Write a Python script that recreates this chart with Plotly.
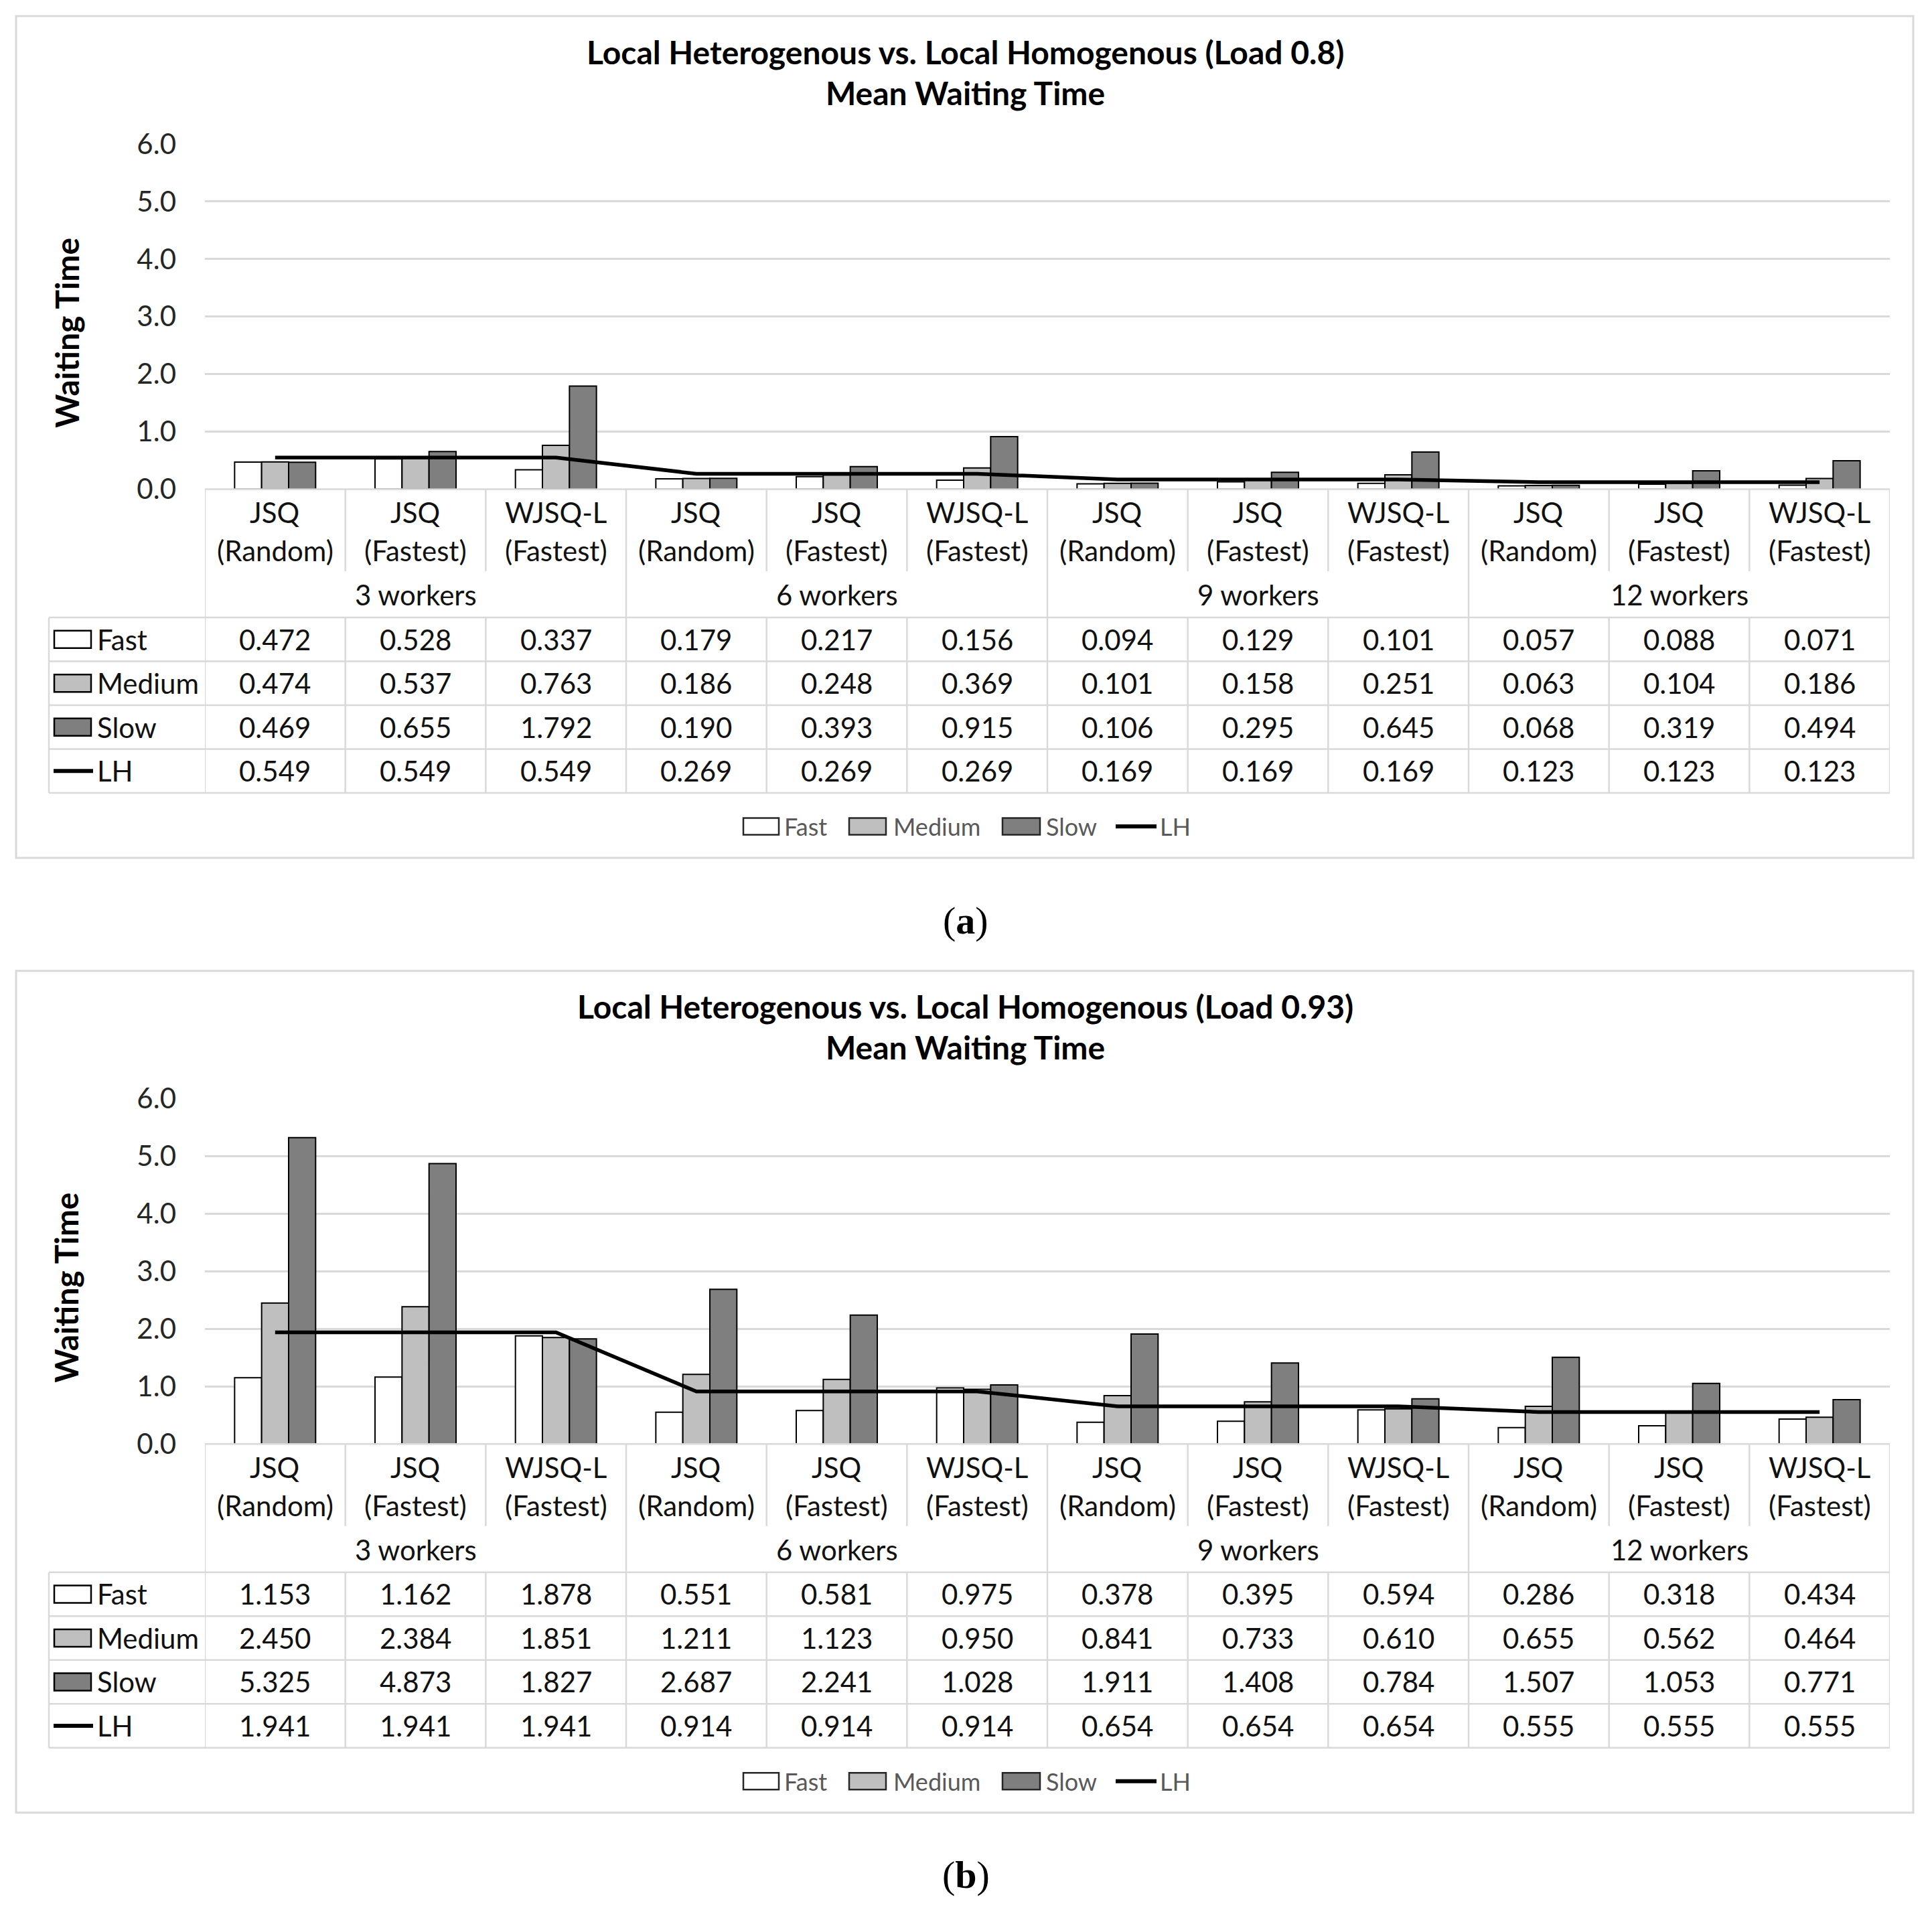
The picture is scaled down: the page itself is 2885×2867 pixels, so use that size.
import plotly.graph_objects as go

W, H = 2885, 2867

# ---------------- data ----------------
cat_line1 = ["JSQ", "JSQ", "WJSQ-L"] * 4
cat_line2 = ["(Random)", "(Fastest)", "(Fastest)"] * 4
groups = ["3 workers", "6 workers", "9 workers", "12 workers"]
series_names = ["Fast", "Medium", "Slow", "LH"]
y_ticks = [0, 1, 2, 3, 4, 5, 6]

a_fast = [0.472, 0.528, 0.337, 0.179, 0.217, 0.156, 0.094, 0.129, 0.101, 0.057, 0.088, 0.071]
a_medium = [0.474, 0.537, 0.763, 0.186, 0.248, 0.369, 0.101, 0.158, 0.251, 0.063, 0.104, 0.186]
a_slow = [0.469, 0.655, 1.792, 0.190, 0.393, 0.915, 0.106, 0.295, 0.645, 0.068, 0.319, 0.494]
a_lh = [0.549, 0.549, 0.549, 0.269, 0.269, 0.269, 0.169, 0.169, 0.169, 0.123, 0.123, 0.123]

b_fast = [1.153, 1.162, 1.878, 0.551, 0.581, 0.975, 0.378, 0.395, 0.594, 0.286, 0.318, 0.434]
b_medium = [2.450, 2.384, 1.851, 1.211, 1.123, 0.950, 0.841, 0.733, 0.610, 0.655, 0.562, 0.464]
b_slow = [5.325, 4.873, 1.827, 2.687, 2.241, 1.028, 1.911, 1.408, 0.784, 1.507, 1.053, 0.771]
b_lh = [1.941, 1.941, 1.941, 0.914, 0.914, 0.914, 0.654, 0.654, 0.654, 0.555, 0.555, 0.555]

title_a = ["Local Heterogenous vs. Local Homogenous (Load 0.8)", "Mean Waiting Time"]
title_b = ["Local Heterogenous vs. Local Homogenous (Load 0.93)", "Mean Waiting Time"]
y_title = "Waiting Time"
panel_labels = ["a", "b"]

# ---------------- styling ----------------
FONT = "Lato"
FS = 42
FILLS = {"Fast": "#FFFFFF", "Medium": "#BFBFBF", "Slow": "#7F7F7F"}
GRID = "#D9D9D9"


def X(px):
    return px / W


def Y(py):
    return 1 - py / H


def text(t, x, y, font, xref="paper", xanchor="center", **kw):
    d = dict(text=t, x=x, y=y, xref=xref, yref="paper", showarrow=False,
             xanchor=xanchor, yanchor="middle", font=font)
    d.update(kw)
    return d


fig = go.Figure()
shapes = []
annotations = []

panels = [
    dict(offset=0.0, xa="x", ya="y", xl="xaxis", yl="yaxis",
         fast=a_fast, medium=a_medium, slow=a_slow, lh=a_lh, title=title_a, label=panel_labels[0]),
    dict(offset=1425.7, xa="x2", ya="y2", xl="xaxis2", yl="yaxis2",
         fast=b_fast, medium=b_medium, slow=b_slow, lh=b_lh, title=title_b, label=panel_labels[1]),
]

ncat = len(cat_line1)
xs = list(range(ncat))

layout_axes = {}
for p in panels:
    D = p["offset"]
    for name in ["Fast", "Medium", "Slow"]:
        fig.add_trace(go.Bar(
            x=xs, y=p[name.lower()], name=name, xaxis=p["xa"], yaxis=p["ya"],
            marker=dict(color=FILLS[name], line=dict(color="black", width=2)),
            showlegend=False, hoverinfo="skip"))
    fig.add_trace(go.Scatter(
        x=xs, y=p["lh"], name="LH", mode="lines", xaxis=p["xa"], yaxis=p["ya"],
        line=dict(color="black", width=5.5), showlegend=False, hoverinfo="skip"))

    layout_axes[p["xl"]] = dict(
        domain=[X(306), X(2822)], range=[-0.5, ncat - 0.5], showticklabels=False,
        showgrid=False, zeroline=False, showline=False, ticks="", fixedrange=True,
        automargin=False, anchor=p["ya"])
    layout_axes[p["yl"]] = dict(
        domain=[Y(730.5 + D), Y(215 + D)], range=[0, 6], tickvals=y_ticks,
        tickformat=".1f", showgrid=True, gridcolor=GRID, gridwidth=3,
        zeroline=False, showline=False, ticks="", ticklabelstandoff=42,
        tickfont=dict(family=FONT, size=FS, color="#262626"), fixedrange=True,
        automargin=False, anchor=p["xa"])

    # panel border
    shapes.append(dict(type="rect", xref="paper", yref="paper",
                       x0=X(24), x1=X(2857), y0=Y(1281 + D), y1=Y(24 + D),
                       line=dict(color=GRID, width=3), fillcolor="rgba(0,0,0,0)", layer="below"))

    # titles
    tfont = dict(family=FONT, size=48, color="#000000")
    annotations.append(text("<b>%s</b>" % p["title"][0], X(1441), Y(77 + D), tfont))
    annotations.append(text("<b>%s</b>" % p["title"][1], X(1441), Y(138 + D), tfont))
    annotations.append(text("<b>%s</b>" % y_title, X(99), Y(497 + D),
                            dict(family=FONT, size=48, color="#000000"), textangle=-90))

    # ---------- data table ----------
    top, cat_bot, grp_bot = 730.5 + D, 853 + D, 922 + D
    row_edges = [922 + D, 987.5 + D, 1053 + D, 1118.5 + D, 1184 + D]
    left_px = 73
    lc = dict(color=GRID, width=2.5)
    shapes.append(dict(type="line", xref=p["xa"], yref="paper", x0=-0.5, x1=ncat - 0.5,
                       y0=Y(top), y1=Y(top), line=lc))
    for ye in row_edges:
        shapes.append(dict(type="line", xref="paper", yref="paper", x0=X(left_px), x1=X(2822),
                           y0=Y(ye), y1=Y(ye), line=lc))
    shapes.append(dict(type="line", xref="paper", yref="paper", x0=X(left_px), x1=X(left_px),
                       y0=Y(row_edges[0]), y1=Y(row_edges[-1]), line=lc))
    for k in range(ncat + 1):
        xv = k - 0.5
        if k % 3 == 0:
            shapes.append(dict(type="line", xref=p["xa"], yref="paper", x0=xv, x1=xv,
                               y0=Y(top), y1=Y(row_edges[-1]), line=lc))
        else:
            shapes.append(dict(type="line", xref=p["xa"], yref="paper", x0=xv, x1=xv,
                               y0=Y(top), y1=Y(cat_bot), line=lc))
            shapes.append(dict(type="line", xref=p["xa"], yref="paper", x0=xv, x1=xv,
                               y0=Y(grp_bot), y1=Y(row_edges[-1]), line=lc))
    tf = dict(family=FONT, size=FS, color="#111111")
    for i in range(ncat):
        annotations.append(text(cat_line1[i], i, Y(765 + D), tf, xref=p["xa"]))
        annotations.append(text(cat_line2[i], i, Y(822 + D), tf, xref=p["xa"]))
    for g, gname in enumerate(groups):
        annotations.append(text(gname, 3 * g + 1, Y(888 + D), tf, xref=p["xa"]))
    series_vals = [p["fast"], p["medium"], p["slow"], p["lh"]]
    for r, (sname, vals) in enumerate(zip(series_names, series_vals)):
        yc = (row_edges[r] + row_edges[r + 1]) / 2
        for i, v in enumerate(vals):
            annotations.append(text("%.3f" % v, i, Y(yc), tf, xref=p["xa"]))
        if sname == "LH":
            shapes.append(dict(type="line", xref="paper", yref="paper", x0=X(80), x1=X(139),
                               y0=Y(yc), y1=Y(yc), line=dict(color="black", width=6)))
        else:
            shapes.append(dict(type="rect", xref="paper", yref="paper", x0=X(81), x1=X(136),
                               y0=Y(yc + 13), y1=Y(yc - 13), fillcolor=FILLS[sname],
                               line=dict(color="black", width=2.5)))
        annotations.append(text(sname, X(143), Y(yc), tf, xanchor="left"))

    # ---------- bottom legend ----------
    ly = 1234 + D
    lf = dict(family=FONT, size=36, color="#595959")
    keys = [("Fast", 1110, 1163, 1169), ("Medium", 1268, 1323, 1332),
            ("Slow", 1497, 1553, 1560), ("LH", 1666, 1727, 1730)]
    for sname, k0, k1, t0 in keys:
        if sname == "LH":
            shapes.append(dict(type="line", xref="paper", yref="paper", x0=X(k0), x1=X(k1),
                               y0=Y(ly), y1=Y(ly), line=dict(color="black", width=6)))
        else:
            shapes.append(dict(type="rect", xref="paper", yref="paper", x0=X(k0), x1=X(k1),
                               y0=Y(ly + 12.5), y1=Y(ly - 12.5), fillcolor=FILLS[sname],
                               line=dict(color="#262626", width=2.5)))
        annotations.append(text(sname, X(t0), Y(ly), lf, xanchor="left"))

    annotations.append(text("(<b>%s</b>)" % p["label"], X(1442), Y(1374 + D),
                            dict(family="Liberation Serif", size=58, color="#000000")))

fig.update_layout(
    width=W, height=H, margin=dict(l=0, r=0, t=0, b=0, pad=0, autoexpand=False),
    paper_bgcolor="white", plot_bgcolor="rgba(0,0,0,0)",
    barmode="group", bargap=0.423, bargroupgap=0,
    shapes=shapes, annotations=annotations, showlegend=False,
    **layout_axes)

fig.write_html("out.html", config={"displayModeBar": False},
               post_script="document.body.style.margin='0';")
